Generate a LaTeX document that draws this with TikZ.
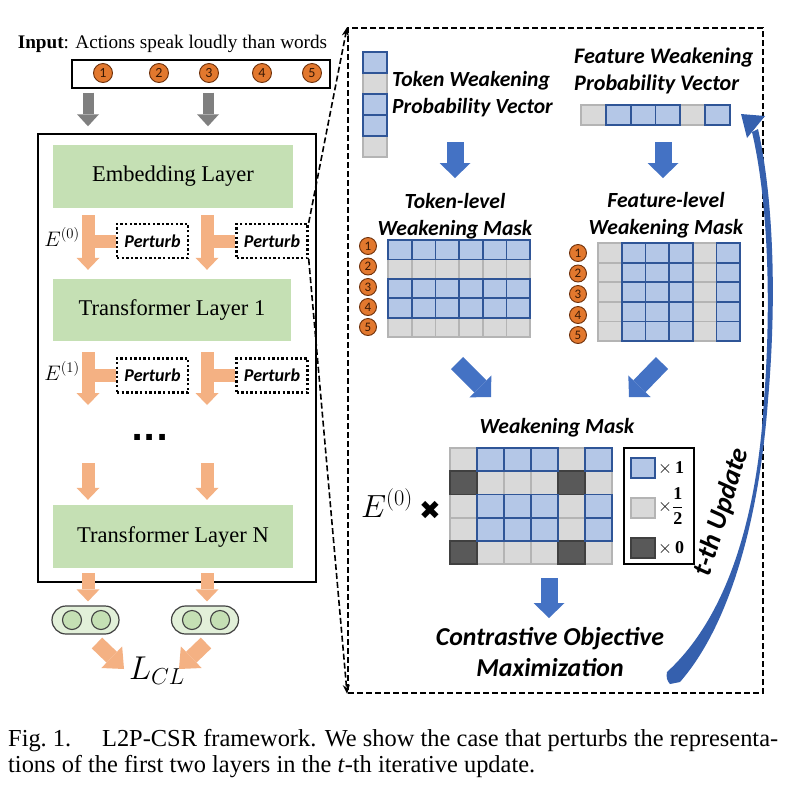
\RequirePackage{fix-cm}
\documentclass[tikz,border=0pt]{standalone}
\usepackage{fontspec}
\setmainfont{Liberation Serif}
\newfontfamily\calib{Carlito}
\newfontfamily\djv{DejaVu Sans}
\usetikzlibrary{arrows.meta,calc}
\definecolor{grn}{HTML}{C5E0B4}
\definecolor{salm}{HTML}{F4B183}
\definecolor{gar}{HTML}{7F7F7F}
\definecolor{blu}{HTML}{4472C4}
\definecolor{cblue}{HTML}{3560AE}
\definecolor{bcell}{HTML}{B4C7E7}
\definecolor{bedge}{HTML}{2F5597}
\definecolor{gcell}{HTML}{D9D9D9}
\definecolor{gedge}{HTML}{B4B4B4}
\definecolor{dcell}{HTML}{595959}
\definecolor{dedge}{HTML}{404040}
\definecolor{orng}{HTML}{E2782E}
\definecolor{oedge}{HTML}{6E300A}
\definecolor{pillc}{HTML}{E2F0D9}
\tikzset{
  layer/.style={fill=grn, minimum width=240pt, minimum height=63pt, inner sep=0pt, font=\fontsize{22.5}{26}\selectfont},
  pert/.style={draw, line width=2.4pt, dash pattern=on 2.4pt off 2.2pt, minimum width=71pt, minimum height=34pt, inner sep=0pt, font=\calib\bfseries\itshape\fontsize{18}{20}\selectfont},
  num/.style={circle, fill=orng, draw=oedge, line width=0.9pt, minimum size=19pt, inner sep=0pt, font=\calib\fontsize{14}{14}\selectfont, text=oedge!50!black},
  snum/.style={num, minimum size=17pt, font=\calib\fontsize{13}{13}\selectfont},
  garr/.style={draw=gar, line width=11pt, -{Triangle[width=22pt,length=12pt,line width=0pt]}},
  sarr/.style={draw=salm, line width=13pt, -{Triangle[width=23pt,length=12pt,line width=0pt]}},
  sarrd/.style={draw=salm, line width=15pt, -{Triangle[width=30pt,length=17pt,line width=0pt]}},
  barr/.style={draw=blu, line width=17pt, -{Triangle[width=31pt,length=15pt,line width=0pt]}},
  lab/.style={font=\calib\bfseries\itshape\fontsize{21.6}{27}\selectfont, inner sep=0pt},
  bc/.style={fill=bcell, draw=bedge, line width=1.8pt},
  gc/.style={fill=gcell, draw=gedge, line width=1.8pt},
  dc/.style={fill=dcell, draw=dedge, line width=1.8pt},
  dline/.style={line width=1.6pt, dash pattern=on 6pt off 3pt},
  pillst/.style={draw=dedge, fill=pillc, rounded corners=14pt, minimum width=67pt, minimum height=28pt, line width=1.2pt, inner sep=0pt},
  dot/.style={circle, draw=dedge, fill=grn, minimum size=19pt, line width=1.1pt, inner sep=0pt}
}
\begin{document}
\begin{tikzpicture}[x=1pt,y=-1pt]
\useasboundingbox (0,0) rectangle (787,788);
\fill[white] (0,0) rectangle (787,788);

% ---------- left part ----------
\node[font=\fontsize{19.2}{22}\selectfont, inner sep=0pt] (intext) at (172.5,44) {\textbf{Input}: Actions speak loudly than words};
\node[draw, line width=1.3pt, minimum width=258pt, minimum height=28pt, inner sep=0pt] (inbox) at (201,74) {};
\node[num] (i1) at (103,73) {1};
\node[num] (i2) at (159,73) {2};
\node[num] (i3) at (209,73) {3};
\node[num] (i4) at (262,73) {4};
\node[num] (i5) at (312,73) {5};

\coordinate (xl) at (88,0);
\coordinate (xr) at (207,0);
\coordinate (xg) at (208,0);

\node[draw, line width=1.5pt, minimum width=278pt, minimum height=448pt, inner sep=0pt] (big) at (177,358) {};

\draw[garr, shorten <=4pt, shorten >=7pt] (inbox.south -| xl) -- (big.north -| xl);
\draw[garr, shorten <=4pt, shorten >=7pt] (inbox.south -| xg) -- (big.north -| xg);

\node[layer] (emb) at (173,176.5) {Embedding Layer};
\node[layer, minimum width=238pt, minimum height=62pt] (tl1) at (172,310) {Transformer Layer 1};
\node[layer] (tlN) at (173,536.5) {Transformer Layer N};

\node[pert] (pL1) at (152.5,241) {Perturb};
\node[pert] (pR1) at (272,241) {Perturb};
\node[pert] (pL2) at (152.5,375.5) {Perturb};
\node[pert] (pR2) at (272,375.5) {Perturb};

\node[font=\fontsize{21}{24}\selectfont, inner sep=0pt] (e0) at (62,237) {$E^{(0)}$};
\node[font=\fontsize{21}{24}\selectfont, inner sep=0pt] (e1) at (62,371) {$E^{(1)}$};

% row 1 arrows
\draw[sarr, shorten <=7pt, shorten >=9pt] (emb.south -| xl) -- (tl1.north -| xl);
\draw[sarr, shorten <=7pt, shorten >=9pt] (emb.south -| xr) -- (tl1.north -| xr);
\draw[salm, line width=13pt] (xl |- pL1.west) -- (pL1.west);
\draw[salm, line width=13pt] (xr |- pR1.west) -- (pR1.west);
% row 2 arrows
\coordinate (a2l) at (88,405);
\coordinate (a2r) at (207,405);
\draw[sarr, shorten <=11pt] (tl1.south -| xl) -- (a2l);
\draw[sarr, shorten <=11pt] (tl1.south -| xr) -- (a2r);
\draw[salm, line width=13pt] (xl |- pL2.west) -- (pL2.west);
\draw[salm, line width=13pt] (xr |- pR2.west) -- (pR2.west);

\node[font=\djv\bfseries\fontsize{32}{32}\selectfont, inner sep=0pt] (dots) at (150,437) {...};

\coordinate (a3l) at (88,463);
\coordinate (a3r) at (207,463);
\draw[sarr, shorten >=5pt] (a3l) -- (tlN.north -| xl);
\draw[sarr, shorten >=5pt] (a3r) -- (tlN.north -| xr);

\node[pillst] (pill1) at (85.5,620) {};
\node[pillst] (pill2) at (205,620) {};
\node[dot] (c11) at (72,620) {};
\node[dot] (c12) at (101,620) {};
\node[dot] (c21) at (192,620) {};
\node[dot] (c22) at (220,620) {};

\draw[sarr, shorten <=5pt, shorten >=4pt] (tlN.south -| xl) -- (pill1.north -| xl);
\draw[sarr, shorten <=5pt, shorten >=4pt] (tlN.south -| xr) -- (pill2.north -| xr);

\node[font=\fontsize{33}{36}\selectfont, inner sep=0pt] (lcl) at (157,671) {$L_{CL}$};
\coordinate (d1s) at (97,643);
\coordinate (d1e) at (124,669);
\coordinate (d2s) at (206,643);
\coordinate (d2e) at (179,669);
\draw[sarrd] (d1s) -- (d1e);
\draw[sarrd] (d2s) -- (d2e);

% ---------- right panel ----------
\node[draw, dline, line width=1.8pt, minimum width=415pt, minimum height=665pt, inner sep=0pt] (rbox) at (555.5,360.5) {};
\draw[dline, -{Stealth[length=9pt,width=7pt]}] (pR1.north east) -- (rbox.north west);
\draw[dline, -{Stealth[length=9pt,width=7pt]}] (pR1.south east) -- (rbox.south west);

% token probability vector
\foreach \i in {1,4} \draw[gc] (363,{52+21*\i}) rectangle ++(24,21);
\foreach \i in {0,2,3} \draw[bc] (363,{52+21*\i}) rectangle ++(24,21);
\node[lab, align=left, anchor=west] (twl) at (392,94) {Token Weakening\\Probability Vector};

% feature probability vector
\foreach \i in {0,4} \draw[gc] ({581+24.8*\i},105) rectangle ++(24.8,20);
\foreach \i in {1,2,3,5} \draw[bc] ({581+24.8*\i},105) rectangle ++(24.8,20);
\node[lab, align=left, anchor=west, font=\calib\bfseries\itshape\fontsize{22.2}{27}\selectfont] (fwl) at (574,71) {Feature Weakening\\Probability Vector};

\coordinate (b1s) at (455,142); \coordinate (b1e) at (455,178);
\coordinate (b2s) at (663,142); \coordinate (b2e) at (663,178);
\draw[barr] (b1s) -- (b1e);
\draw[barr] (b2s) -- (b2e);

\node[lab, align=center] (tlm) at (455,216) {Token-level\\Weakening Mask};
\node[lab, align=center] (flm) at (666,215.5) {Feature-level\\Weakening Mask};

% token-level mask
\foreach \r in {1,4} \foreach \c in {0,...,5} \draw[gc] ({388+23.7*\c},{240+19.4*\r}) rectangle ++(23.7,19.4);
\foreach \r in {0,2,3} \foreach \c in {0,...,5} \draw[bc] ({388+23.7*\c},{240+19.4*\r}) rectangle ++(23.7,19.4);
\node[snum] (t1) at (368,246) {1};
\node[snum] (t2) at (368,266.5) {2};
\node[snum] (t3) at (368,287) {3};
\node[snum] (t4) at (368,307) {4};
\node[snum] (t5) at (368,327) {5};

% feature-level mask
\foreach \r in {0,...,4} \foreach \c in {0,4} \draw[gc] ({598+23.7*\c},{243+19.6*\r}) rectangle ++(23.7,19.6);
\foreach \r in {0,...,4} \foreach \c in {1,2,3,5} \draw[bc] ({598+23.7*\c},{243+19.6*\r}) rectangle ++(23.7,19.6);
\node[snum] (f1) at (578,253) {1};
\node[snum] (f2) at (578,273.5) {2};
\node[snum] (f3) at (578,294) {3};
\node[snum] (f4) at (578,315) {4};
\node[snum] (f5) at (578,335) {5};

\coordinate (b3s) at (457,363); \coordinate (b3e) at (491,397);
\coordinate (b4s) at (662,363); \coordinate (b4e) at (629,397);
\draw[barr] (b3s) -- (b3e);
\draw[barr] (b4s) -- (b4e);

\node[lab] (wm) at (557,428) {Weakening Mask};

% combined mask
\foreach \r in {0,2,3} \foreach \c in {0,4} \draw[gc] ({450+27*\c},{448+23.2*\r}) rectangle ++(27,23.2);
\foreach \r in {1,4} \foreach \c in {1,2,3,5} \draw[gc] ({450+27*\c},{448+23.2*\r}) rectangle ++(27,23.2);
\foreach \r in {1,4} \foreach \c in {0,4} \draw[dc] ({450+27*\c},{448+23.2*\r}) rectangle ++(27,23.2);
\foreach \r in {0,2,3} \foreach \c in {1,2,3,5} \draw[bc] ({450+27*\c},{448+23.2*\r}) rectangle ++(27,23.2);

\node[font=\fontsize{32}{34}\selectfont, inner sep=0pt] (bigE) at (387,503) {$E^{(0)}$};
\node[font=\djv\fontsize{26}{26}\selectfont, inner sep=0pt] (cross) at (430,510) {✖};

% legend
\node[draw, line width=1.5pt, minimum width=70pt, minimum height=116pt, inner sep=0pt] (leg) at (659,506) {};
\draw[bc] (631,458) rectangle (655,478);
\draw[gc] (631,498) rectangle (655,518);
\draw[dc] (631,538) rectangle (655,558);
\node[anchor=west, font=\fontsize{18}{20}\selectfont, inner sep=0pt] (l1) at (658,468) {$\times\,\mathbf{1}$};
\node[anchor=west, font=\fontsize{18}{20}\selectfont, inner sep=0pt] (l2) at (658,506) {$\displaystyle\times\frac{\mathbf{1}}{\mathbf{2}}$};
\node[anchor=west, font=\fontsize{18}{20}\selectfont, inner sep=0pt] (l3) at (658,548) {$\times\,\mathbf{0}$};

\coordinate (b5s) at (549,578); \coordinate (b5e) at (549,618);
\draw[barr] (b5s) -- (b5e);

\node[lab, align=center, font=\calib\bfseries\itshape\fontsize{25.8}{31}\selectfont] (cont) at (550,652.5) {Contrastive Objective\\Maximization};

% curved update arrow
\fill[cblue] (680,682) .. controls (729,626) and (759,522) .. (768,400)
  .. controls (776,310) and (775,205) .. (758,129) -- (752,132)
  .. controls (769,205) and (771,310) .. (764,400)
  .. controls (757,520) and (726,618) .. (667,672)
  .. controls (666,677) and (667,681) .. (670,684) -- cycle;
\fill[cblue] (741,114) -- (765,116) -- (747,138) -- cycle;
\node[rotate=73, font=\calib\bfseries\itshape\fontsize{27.5}{30}\selectfont, inner sep=0pt] (upd) at (722,512) {t-th Update};

% caption
\node[anchor=north west, text width=770pt, align=justify, inner sep=0pt, font=\fontsize{24.4}{26.5}\selectfont] (cap) at (8,729)
 {Fig.\kern6pt 1.\kern31pt L2P-CSR framework. We show the case that perturbs the representa-\linebreak tions of the first two layers in the \textit{t}-th iterative update.};
\end{tikzpicture}
\end{document}
